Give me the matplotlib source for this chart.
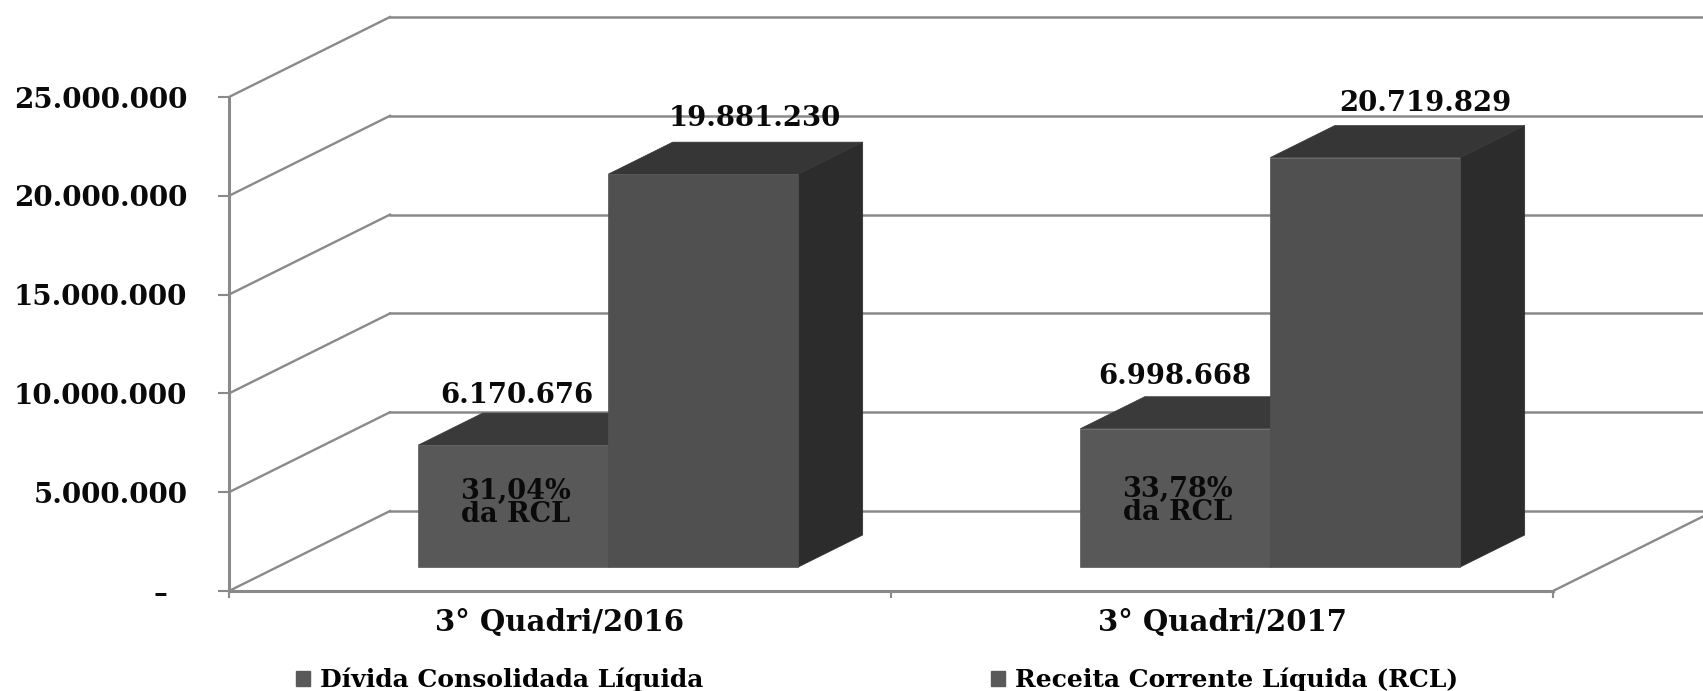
import matplotlib
matplotlib.use('Agg')
import matplotlib.pyplot as plt
from matplotlib.patches import Patch

categories = ['3° Quadri/2016', '3° Quadri/2017']
divida = [6170676, 6998668]
receita = [19881230, 20719829]
percent_labels = ['31,04%\nda RCL', '33,78%\nda RCL']
y_ticks = [0, 5000000, 10000000, 15000000, 20000000, 25000000]
y_labels = ['–  ', '5.000.000', '10.000.000', '15.000.000', '20.000.000', '25.000.000']
legend_labels = ['Dívida Consolidada Líquida', 'Receita Corrente Líquida (RCL)']

W, H = 1703, 691
GRID = '#8a8a8a'
FONT = 'DejaVu Serif'
INK = '#0a0a0a'

# fake 3d: how far the back wall sits from the front plane, in data units
depth_x = 161 / 662
depth_y = 80 / 98.8 * 5000000
bar_w = 190 / 662
bar_front = 0.30  # depth of bar front face
bar_back = 0.70   # depth of bar back face


def proj(x, y, d):
    return x + d * depth_x, y + d * depth_y


def box(ax, x0, x1, top, front, topc, side):
    a = [proj(x0, 0, bar_front), proj(x1, 0, bar_front), proj(x1, top, bar_front), proj(x0, top, bar_front)]
    t = [proj(x0, top, bar_front), proj(x1, top, bar_front), proj(x1, top, bar_back), proj(x0, top, bar_back)]
    s = [proj(x1, 0, bar_front), proj(x1, 0, bar_back), proj(x1, top, bar_back), proj(x1, top, bar_front)]
    for pts, c in ((s, side), (t, topc), (a, front)):
        ax.fill(*zip(*pts), color=c, lw=0.5, clip_on=False, zorder=3)


fig = plt.figure(figsize=(W / 100, H / 100), dpi=100)
ax = fig.add_axes([229 / W, (H - 591) / H, 1324 / W, 494 / H])
ax.set_xlim(0, 2)
ax.set_ylim(0, 25000000)

# walls and floor
for v in y_ticks:
    ax.plot([0, depth_x], [v, v + depth_y], color=GRID, lw=1.7, clip_on=False, zorder=1)
    ax.plot([depth_x, 2 + depth_x], [v + depth_y, v + depth_y], color=GRID, lw=1.8, clip_on=False, zorder=1)
ax.plot([2, 2 + depth_x], [0, depth_y], color=GRID, lw=1.7, clip_on=False, zorder=1)

for i in range(len(categories)):
    c = i + 0.5
    box(ax, c - bar_w, c, divida[i], '#585858', '#3a3a3a', '#2c2c2c')
    box(ax, c, c + bar_w, receita[i], '#505050', '#363636', '#2c2c2c')

# value labels, offsets in px from the front top edge of the bar
offs_d = [(4, 50), (0, 52)]
offs_r = [(52, 56), (60, 54)]
for i in range(len(categories)):
    c = i + 0.5
    fx, fy = proj(c - bar_w / 2, divida[i], bar_front)
    ax.annotate(f'{divida[i]:,}'.replace(',', '.'), (fx, fy), xytext=(offs_d[i][0] * 0.72, offs_d[i][1] * 0.72),
                textcoords='offset points', ha='center', va='center', fontsize=19.8, fontweight='bold',
                family=FONT, color=INK, zorder=5, annotation_clip=False)
    fx, fy = proj(c + bar_w / 2, receita[i], bar_front)
    ax.annotate(f'{receita[i]:,}'.replace(',', '.'), (fx, fy), xytext=(offs_r[i][0] * 0.72, offs_r[i][1] * 0.72),
                textcoords='offset points', ha='center', va='center', fontsize=19.8, fontweight='bold',
                family=FONT, color=INK, zorder=5, annotation_clip=False)
    fx, fy = proj(c - bar_w / 2, divida[i] / 2, bar_front)
    ax.annotate(percent_labels[i], (fx, fy), xytext=(1.5, 2 - i * 4), textcoords='offset points', ha='center',
                va='center', fontsize=19.5, fontweight='bold', family=FONT, color=INK, linespacing=0.8, zorder=5)

for s in ('top', 'right'):
    ax.spines[s].set_visible(False)
for s in ('left', 'bottom'):
    ax.spines[s].set_color(GRID)
    ax.spines[s].set_linewidth(2.2)
ax.patch.set_visible(False)

ax.set_yticks(y_ticks)
ax.set_yticklabels(y_labels, fontsize=20, fontweight='bold', family=FONT, color=INK)
ax.tick_params(axis='y', length=8, width=1.5, color=GRID, pad=22)
ax.set_xticks([0, 1, 2])
ax.set_xticklabels([])
ax.tick_params(axis='x', length=5, width=1.5, color=GRID)
ax.set_xticks([0.5, 1.5], minor=True)
ax.set_xticklabels(categories, minor=True, fontsize=21, fontweight='bold', family=FONT, color=INK)
ax.tick_params(axis='x', which='minor', length=0, pad=12)

handles = [Patch(color='#595959'), Patch(color='#595959')]
fig.legend(handles, legend_labels, ncols=2, loc='center', bbox_to_anchor=(0.515, 1 - 680 / H), frameon=False,
           handlelength=0.56, handleheight=0.56, handletextpad=0.4, columnspacing=11.5,
           prop={'family': FONT, 'weight': 'bold', 'size': 18})

fig.savefig('out.png', dpi=100)
plt.close('all')
